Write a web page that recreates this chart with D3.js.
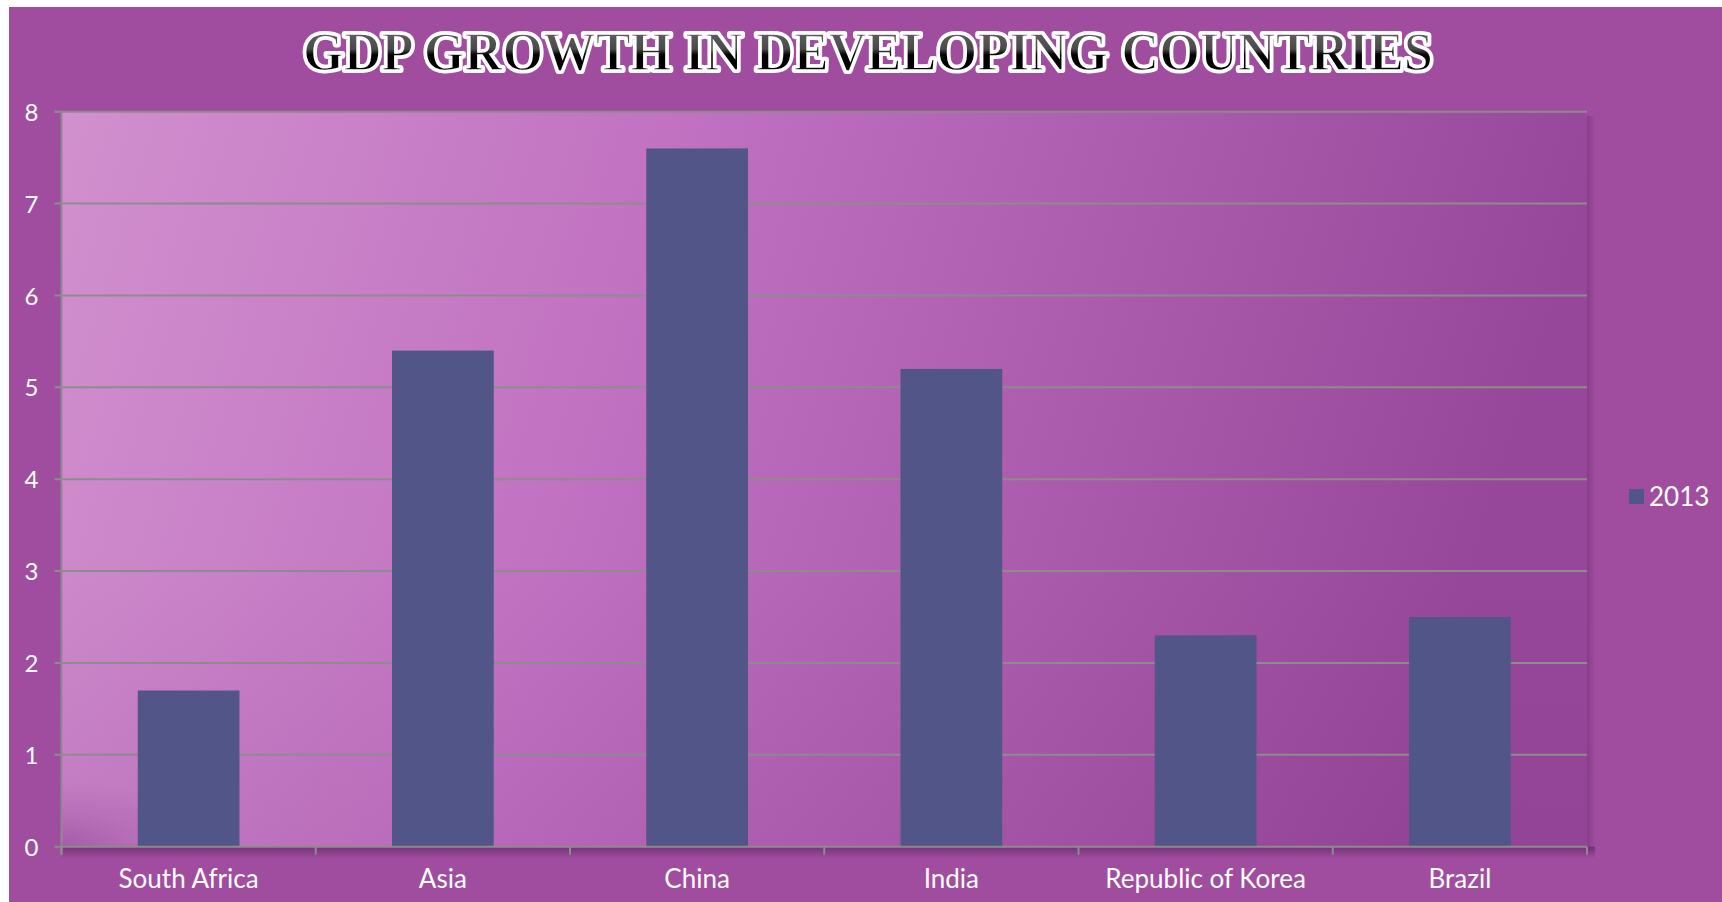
<!DOCTYPE html>
<html>
<head>
<meta charset="utf-8">
<script src="https://cdn.jsdelivr.net/npm/d3@7"></script>
<style>
  html, body { margin: 0; padding: 0; background: #ffffff; }
  svg { display: block; }
</style>
</head>
<body>
<script>
const categories = ["South Africa", "Asia", "China", "India", "Republic of Korea", "Brazil"];
const values2013 = [1.7, 5.4, 7.6, 5.2, 2.3, 2.5];
const yTicks = [0, 1, 2, 3, 4, 5, 6, 7, 8];
const seriesName = "2013";
const titleText = "GDP GROWTH IN DEVELOPING COUNTRIES";

const W = 1722, H = 902;
const plot = { left: 61.5, top: 111.7, right: 1587, bottom: 846.7 };

const svg = d3.select("body").append("svg").attr("width", W).attr("height", H);
const defs = svg.append("defs");

// plot area gradient
const lg = defs.append("linearGradient").attr("id", "plotGrad")
  .attr("x1", "0").attr("y1", "0").attr("x2", "1").attr("y2", "0.15");
lg.append("stop").attr("offset", "0").attr("stop-color", "#d190ce");
lg.append("stop").attr("offset", "0.42").attr("stop-color", "#c070c0");
lg.append("stop").attr("offset", "1").attr("stop-color", "#964799");

const rg = defs.append("radialGradient").attr("id", "vignette")
  .attr("cx", "0").attr("cy", "1").attr("r", "0.09");
rg.append("stop").attr("offset", "0").attr("stop-color", "#7a2f80").attr("stop-opacity", 0.4);
rg.append("stop").attr("offset", "0.5").attr("stop-color", "#7a2f80").attr("stop-opacity", 0.15);
rg.append("stop").attr("offset", "1").attr("stop-color", "#7a2f80").attr("stop-opacity", 0);

const vg = defs.append("linearGradient").attr("id", "vshade")
  .attr("x1", "0").attr("y1", "0").attr("x2", "0").attr("y2", "1");
vg.append("stop").attr("offset", "0").attr("stop-color", "#7a2f80").attr("stop-opacity", 0);
vg.append("stop").attr("offset", "0.6").attr("stop-color", "#7a2f80").attr("stop-opacity", 0);
vg.append("stop").attr("offset", "1").attr("stop-color", "#7a2f80").attr("stop-opacity", 0.12);

const botShade = defs.append("linearGradient").attr("id", "botShade")
  .attr("x1", "0").attr("y1", "0").attr("x2", "0").attr("y2", "1");
botShade.append("stop").attr("offset", "0").attr("stop-color", "#5a1f60").attr("stop-opacity", 0.6);
botShade.append("stop").attr("offset", "1").attr("stop-color", "#5a1f60").attr("stop-opacity", 0);
const rightShade = defs.append("linearGradient").attr("id", "rightShade")
  .attr("x1", "0").attr("y1", "0").attr("x2", "1").attr("y2", "0");
rightShade.append("stop").attr("offset", "0").attr("stop-color", "#5a1f60").attr("stop-opacity", 0.35);
rightShade.append("stop").attr("offset", "1").attr("stop-color", "#5a1f60").attr("stop-opacity", 0);

const tg = defs.append("linearGradient").attr("id", "titleGrad")
  .attr("x1", "0").attr("y1", "0").attr("x2", "0").attr("y2", "1");
tg.append("stop").attr("offset", "0").attr("stop-color", "#6a6a6a");
tg.append("stop").attr("offset", "0.45").attr("stop-color", "#4a4a4a");
tg.append("stop").attr("offset", "0.55").attr("stop-color", "#000000");
tg.append("stop").attr("offset", "1").attr("stop-color", "#000000");

// chart background
svg.append("rect").attr("x", 9).attr("y", 7).attr("width", W - 9).attr("height", H - 7)
  .attr("fill", "#a04da0");

// scales
const x = d3.scaleBand().domain(categories).range([plot.left, plot.right]).paddingInner(0).paddingOuter(0);
const y = d3.scaleLinear().domain([0, 8]).range([plot.bottom, plot.top]);

// plot shadows
svg.append("rect").attr("x", plot.left).attr("y", plot.bottom).attr("width", plot.right - plot.left + 8).attr("height", 12)
  .attr("fill", "url(#botShade)");
svg.append("rect").attr("x", plot.right).attr("y", plot.top + 4).attr("width", 8).attr("height", plot.bottom - plot.top)
  .attr("fill", "url(#rightShade)");

// plot area
const pw = plot.right - plot.left, ph = plot.bottom - plot.top;
svg.append("rect").attr("x", plot.left).attr("y", plot.top).attr("width", pw).attr("height", ph)
  .attr("fill", "url(#plotGrad)");
svg.append("rect").attr("x", plot.left).attr("y", plot.top).attr("width", pw).attr("height", ph)
  .attr("fill", "url(#vshade)");
svg.append("rect").attr("x", plot.left).attr("y", plot.top).attr("width", pw).attr("height", ph)
  .attr("fill", "url(#vignette)");

// gridlines
svg.append("g").selectAll("line").data(yTicks.filter(d => d > 0)).join("line")
  .attr("x1", plot.left - 7).attr("x2", plot.right)
  .attr("y1", d => y(d)).attr("y2", d => y(d))
  .attr("stroke", "#8c8c8c").attr("stroke-width", 2);

// bars
const barW = x.bandwidth() * 0.4;
svg.append("g").selectAll("rect").data(categories).join("rect")
  .attr("x", (d) => x(d) + (x.bandwidth() - barW) / 2)
  .attr("y", (d, i) => y(values2013[i]))
  .attr("width", barW)
  .attr("height", (d, i) => y(0) - y(values2013[i]))
  .attr("fill", "#525588");

// y axis
const yAxis = d3.axisLeft(y).tickValues(yTicks).tickSize(0).tickPadding(0).tickFormat(d3.format("d"));
const gy = svg.append("g").attr("transform", `translate(${plot.left},0)`).call(yAxis);
gy.select(".domain").remove();
gy.selectAll(".tick text").attr("x", -23).attr("text-anchor", "end").attr("dy", "0.36em")
  .attr("fill", "#ffffff").attr("font-family", "Lato, 'Open Sans', sans-serif").attr("font-size", 24);
svg.append("line").attr("x1", plot.left).attr("x2", plot.left).attr("y1", plot.top).attr("y2", plot.bottom + 8)
  .attr("stroke", "#8c8c8c").attr("stroke-width", 2);
svg.append("line").attr("x1", plot.left - 7).attr("x2", plot.left).attr("y1", plot.top).attr("y2", plot.top)
  .attr("stroke", "#8c8c8c").attr("stroke-width", 2);

// x axis
const xAxis = d3.axisBottom(x).tickSize(0).tickPadding(0);
const gx = svg.append("g").attr("transform", `translate(0,${plot.bottom})`).call(xAxis);
gx.select(".domain").remove();
gx.selectAll(".tick text").attr("y", 41).attr("dy", 0)
  .attr("fill", "#ffffff").attr("font-family", "Lato, 'Open Sans', sans-serif").attr("font-size", 26);
svg.append("line").attr("x1", plot.left - 7).attr("x2", plot.right).attr("y1", plot.bottom).attr("y2", plot.bottom)
  .attr("stroke", "#8c8c8c").attr("stroke-width", 2);
const bandEdges = categories.map(c => x(c)).concat([plot.right]);
svg.append("g").selectAll("line").data(bandEdges).join("line")
  .attr("x1", d => d).attr("x2", d => d).attr("y1", plot.bottom).attr("y2", plot.bottom + 8)
  .attr("stroke", "#8c8c8c").attr("stroke-width", 2);

// legend
const legend = svg.append("g").attr("transform", "translate(1629,489)");
legend.append("rect").attr("width", 15).attr("height", 15).attr("fill", "#525588");
legend.append("text").attr("x", 20).attr("y", 17).text(seriesName)
  .attr("fill", "#ffffff").attr("font-family", "Lato, 'Open Sans', sans-serif").attr("font-size", 26);

// title
svg.append("text").attr("x", 868).attr("y", 70).attr("text-anchor", "middle")
  .attr("font-family", "'Liberation Serif', 'DejaVu Serif', serif").attr("font-weight", "bold")
  .attr("font-size", 54)
  .attr("textLength", 1130).attr("lengthAdjust", "spacingAndGlyphs")
  .attr("fill", "url(#titleGrad)").attr("stroke", "#ffffff").attr("stroke-width", 6)
  .attr("stroke-linejoin", "round").attr("paint-order", "stroke")
  .text(titleText);
svg.append("text").attr("x", 868).attr("y", 70).attr("text-anchor", "middle")
  .attr("font-family", "'Liberation Serif', 'DejaVu Serif', serif").attr("font-weight", "bold")
  .attr("font-size", 54)
  .attr("textLength", 1130).attr("lengthAdjust", "spacingAndGlyphs")
  .attr("fill", "url(#titleGrad)").attr("stroke", "#ffffff").attr("stroke-width", 1.6)
  .text(titleText);
</script>
</body>
</html>
